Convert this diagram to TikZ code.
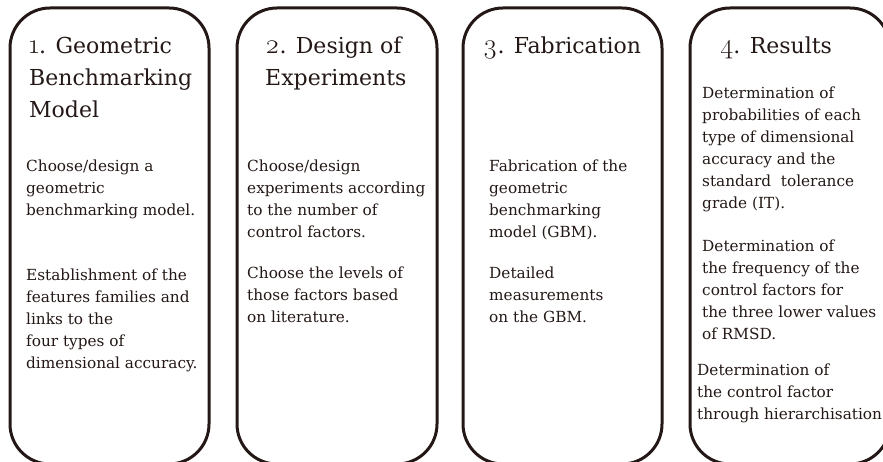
\documentclass[tikz,border=0pt]{standalone}
\usepackage{fontspec}
\setmainfont{DejaVu Serif}
\newfontfamily\osfont[Numbers=OldStyle,Scale=1.25]{Latin Modern Roman}
\newcommand\osnum[1]{{\osfont #1}}
\definecolor{ink}{HTML}{231815}
\begin{document}
\begin{tikzpicture}[x=1pt,y=-1pt,
  frame/.style={draw=ink, line width=3pt, rounded corners=40pt, rectangle,
    minimum height=456pt, inner sep=0pt},
  title/.style={font=\fontsize{22}{32}\selectfont, text=ink, inner sep=0pt},
  body/.style={font=\fontsize{15.3}{22}\selectfont, text=ink, inner sep=0pt,
    align=left, anchor=north west}]
\useasboundingbox (0,0) rectangle (883,462);
\clip (0,0) rectangle (883,462);
% frames
\node[frame, minimum width=199pt] (f1) at (109.5,236) {};
\node[frame, minimum width=200pt] (f2) at (337,236) {};
\node[frame, minimum width=199pt] (f3) at (562.5,236) {};
\node[frame, minimum width=200pt] (f4) at (790,236) {};
% titles
\node[title, anchor=north west, align=left] (t1) at (29,29)
  {\rule{0pt}{24pt}\osnum{1}. Geometric\\Benchmarking\\Model};
\node[title, anchor=north west, align=left] (t2) at (265,29)
  {\rule{0pt}{24pt}\osnum{2}. Design of\\Experiments};
\node[title, anchor=north, align=center] (t3) at (562,29)
  {\rule{0pt}{24pt}\osnum{3}. Fabrication};
\node[title, anchor=north, align=center] (t4) at (776,29)
  {\rule{0pt}{24pt}\osnum{4}. Results};
% body texts
\node[body] (b1a) at (26,155)
  {\rule{0pt}{16pt}Choose/design a\\geometric\\benchmarking model.};
\node[body] (b1b) at (26,264)
  {\rule{0pt}{16pt}Establishment of the\\features families and\\links to the\\four types of\\dimensional accuracy.};
\node[body] (b2a) at (247,155)
  {\rule{0pt}{16pt}Choose/design\\experiments according\\to the number of\\control factors.};
\node[body] (b2b) at (247,262)
  {\rule{0pt}{16pt}Choose the levels of\\those factors based\\on literature.};
\node[body] (b3a) at (489,155)
  {\rule{0pt}{16pt}Fabrication of the\\geometric\\benchmarking\\model (GBM).};
\node[body] (b3b) at (489,262)
  {\rule{0pt}{16pt}Detailed\\measurements\\on the GBM.};
\node[body] (b4a) at (702,82)
  {\rule{0pt}{16pt}Determination of\\probabilities of each\\type of dimensional\\accuracy and the\\standard\ \ tolerance\\grade (IT).};
\node[body] (b4b) at (702,235)
  {\rule{0pt}{16pt}Determination of\\the frequency of the\\control factors for\\the three lower values\\of RMSD.};
\node[body] (b4c) at (697,359)
  {\rule{0pt}{16pt}Determination of\\the control factor\\through hierarchisation};
\end{tikzpicture}
\end{document}
